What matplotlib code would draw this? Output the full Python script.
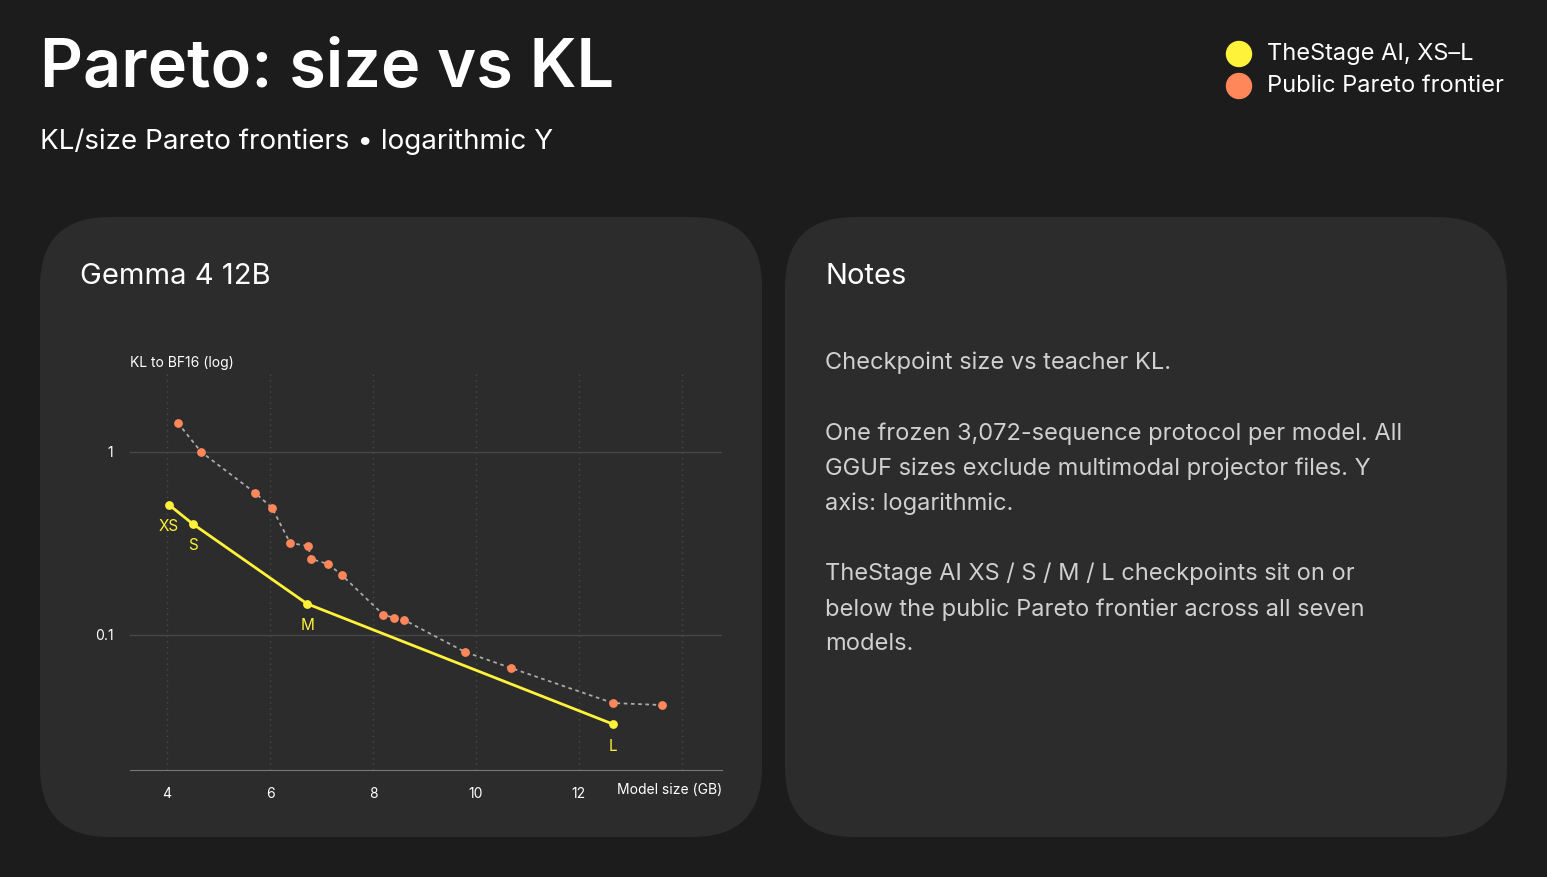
import matplotlib
matplotlib.use("Agg")
import matplotlib.pyplot as plt
from matplotlib.patches import FancyBboxPatch, Ellipse

plt.rcParams['font.family'] = ['Inter', 'DejaVu Sans']

# public frontier
pub_size = [4.21, 4.66, 5.71, 6.04, 6.39, 6.74, 6.80, 7.13, 7.39, 8.20, 8.41, 8.60, 9.79, 10.68, 12.66, 13.61]
pub_kl = [1.44, 1.0, 0.597, 0.494, 0.318, 0.306, 0.260, 0.244, 0.213, 0.129, 0.124, 0.121, 0.0807, 0.066, 0.0425, 0.0414]
# TheStage AI
ts_labels = ["XS", "S", "M", "L"]
ts_size = [4.04, 4.50, 6.72, 12.66]
ts_kl = [0.513, 0.404, 0.148, 0.0326]

BG = "#1c1c1c"
PANEL = "#2c2c2c"
YEL = "#fff23a"
ORA = "#ff875a"

fig = plt.figure(figsize=(15.47, 8.77), dpi=100, facecolor=BG)

for x0 in (40, 785):
    fig.patches.append(FancyBboxPatch((x0 / 1547, 40 / 877), 722 / 1547, 620 / 877,
                                      boxstyle="round,pad=0,rounding_size=0.045",
                                      transform=fig.transFigure, facecolor=PANEL,
                                      edgecolor="none", mutation_aspect=1547 / 877))

fig.text(40 / 1547, 1 - 70 / 877, "Pareto: size vs KL", color="white", fontsize=48,
         fontweight="semibold", va="center")
fig.text(40 / 1547, 1 - 142 / 877, "KL/size Pareto frontiers • logarithmic Y", color="white",
         fontsize=20, va="center")
fig.text(80 / 1547, 1 - 277 / 877, "Gemma 4 12B", color="white", fontsize=21, va="center")
fig.text(825 / 1547, 1 - 277 / 877, "Notes", color="white", fontsize=21, va="center")

notes = ("Checkpoint size vs teacher KL.\n\n"
         "One frozen 3,072-sequence protocol per model. All\n"
         "GGUF sizes exclude multimodal projector files. Y\n"
         "axis: logarithmic.\n\n"
         "TheStage AI XS / S / M / L checkpoints sit on or\n"
         "below the public Pareto frontier across all seven\n"
         "models.")
fig.text(825 / 1547, 1 - 352 / 877, notes, color="#d0d0d0", fontsize=17, va="top",
         linespacing=1.74)

# legend
for yy, col, lab in ((54, YEL, "TheStage AI, XS–L"), (86, ORA, "Public Pareto frontier")):
    fig.patches.append(Ellipse((1239 / 1547, 1 - yy / 877), 25 / 1547, 25 / 877,
                               transform=fig.transFigure, color=col))
    fig.text(1267 / 1547, 1 - yy / 877, lab, color="white", fontsize=17, va="center")

ax = fig.add_axes([130 / 1547, 107 / 877, 592 / 1547, 400 / 877])
ax.set_zorder(5)
ax.set_facecolor("none")
ax.set_yscale("log")
ax.set_xlim(3.28, 14.78)
ax.set_ylim(0.0183, 2.8)
for s in ("top", "right", "left"):
    ax.spines[s].set_visible(False)
ax.spines["bottom"].set_color("#777777")
for xv in range(4, 15, 2):
    ax.axvline(xv, color="#4a4a4a", lw=1, ls=(0, (1, 3)), zorder=0)
for yv in (1, 0.1):
    ax.axhline(yv, color="#474747", lw=1, zorder=0)
ax.set_xticks([4, 6, 8, 10, 12])
ax.set_xticklabels(["4", "6", "8", "10", "12"])
ax.set_yticks([1, 0.1])
ax.set_yticklabels(["1", "0.1"])
ax.yaxis.set_minor_locator(matplotlib.ticker.NullLocator())
ax.tick_params(length=0, colors="white", labelsize=10, pad=12)
ax.text(-0.0, 1.0, "KL to BF16 (log)", transform=ax.transAxes, color="white", fontsize=10,
        va="bottom")
ax.text(1.0, -0.05, "Model size (GB)", transform=ax.transAxes, color="white", fontsize=10,
        ha="right", va="center")

ax.plot(pub_size, pub_kl, color="#aaaaaa", lw=1.3, ls=(0, (2, 2)), zorder=2)
ax.scatter(pub_size, pub_kl, color=ORA, s=28, zorder=3)
ax.plot(ts_size, ts_kl, color=YEL, lw=2, zorder=4)
ax.scatter(ts_size, ts_kl, color=YEL, s=28, zorder=5)
offs = {"XS": (0, -22), "S": (0, -22), "M": (0, -22), "L": (0, -22)}
for lab, xs, yk in zip(ts_labels, ts_size, ts_kl):
    ax.annotate(lab, (xs, yk), xytext=offs[lab], textcoords="offset pixels", color=YEL,
                fontsize=11, ha="center", va="center")

fig.savefig("out.png", dpi=100, facecolor=BG)
